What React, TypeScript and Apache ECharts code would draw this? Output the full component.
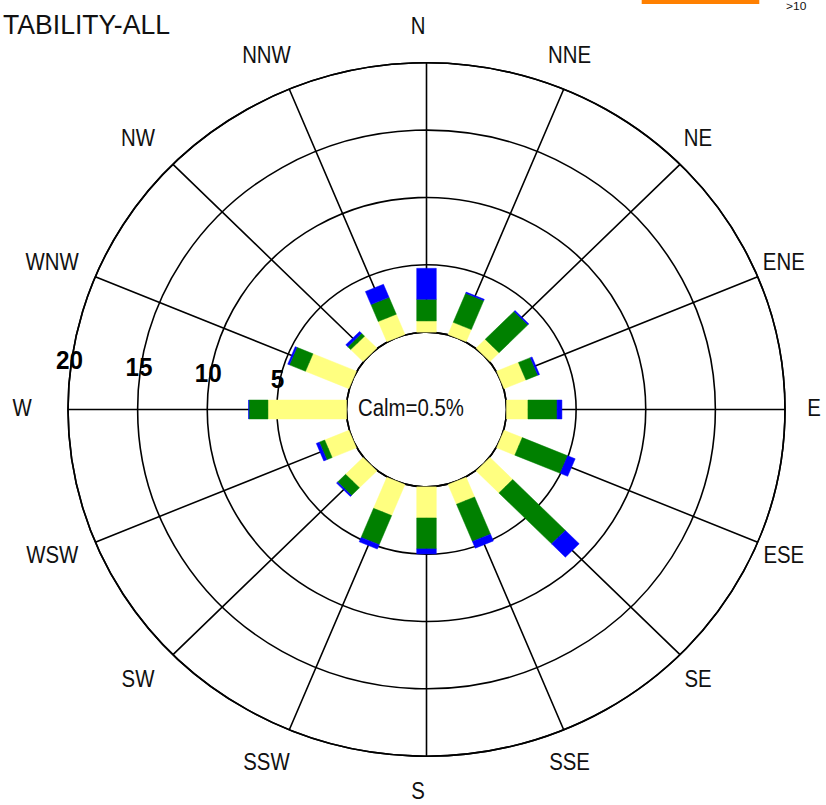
import React, { useEffect, useRef } from "react";
import * as echarts from "echarts";

// ---------- data ----------
const DIRECTIONS = ["N", "NNE", "NE", "ENE", "E", "ESE", "SE", "SSE", "S", "SSW", "SW", "WSW", "W", "WNW", "NW", "NNW"];
// frequency (%) per speed class, per direction (stacked outward)
const CLASS_LOW = [0.83, 0.97, 0.92, 1.69, 1.54, 1.41, 2.31, 1.58, 2.31, 2.49, 1.77, 1.88, 5.64, 3.37, 1.25, 1.62];
const CLASS_MID = [1.61, 2.33, 2.93, 0.93, 2.09, 3.53, 5.35, 2.99, 2.3, 2.34, 0.81, 0.42, 1.36, 1.25, 0.3, 1.36];
const CLASS_HIGH = [2.3, 0.1, 0.1, 0.13, 0.35, 0.58, 1.4, 0.54, 0.37, 0.35, 0.11, 0.23, 0.03, 0.13, 0.2, 1.05];
const RADIUS_TICKS = [5, 10, 15, 20];
const CALM = 0.5;
const TITLE = "TABILITY-ALL";
const LEGEND_TEXT = ">10";

// ---------- style / layout ----------
const CLASS_COLORS = ["#ffff80", "#008000", "#0000ff"];
const SY = 0.967;
const W = 826;
const H = Math.round(805 / SY);
const CX = 426.5;
const CY = 409.5 / SY;
const R_IN = 80;
const R_OUT = 358.5;
const R_MAX = 20;
const BAR_HALF = 9.8;
const LINE_W = 1.6;
const FONT = "'Liberation Sans', Arial, sans-serif";

export default function App() {
  const ref = useRef<HTMLDivElement>(null);

  useEffect(() => {
    if (!ref.current) return;
    const chart = echarts.init(ref.current, undefined, { renderer: "svg" });
    const step = 360 / DIRECTIONS.length;
    const classes = [CLASS_LOW, CLASS_MID, CLASS_HIGH];

    const barData: number[][] = [];
    DIRECTIONS.forEach((_, i) => {
      let cum = 0;
      classes.forEach((vals, c) => {
        barData.push([i * step, cum, cum + vals[i], c]);
        cum += vals[i];
      });
    });

    const option: any = {
      animation: false,
      polar: { center: [CX, CY], radius: [R_IN, R_OUT] },
      angleAxis: {
        type: "value",
        min: 0,
        max: 360,
        interval: step,
        startAngle: 90,
        clockwise: true,
        axisLine: { show: true, lineStyle: { color: "#000", width: LINE_W } },
        axisTick: { show: false },
        axisLabel: { show: false },
        splitLine: { show: true, lineStyle: { color: "#000", width: LINE_W } },
      },
      radiusAxis: {
        type: "value",
        min: 0,
        max: R_MAX,
        interval: 5,
        axisLine: { show: false },
        axisTick: { show: false },
        axisLabel: { show: false },
        splitLine: { show: true, lineStyle: { color: "#000", width: LINE_W } },
      },
      series: [
        {
          type: "custom",
          coordinateSystem: "polar",
          encode: { angle: 0, radius: [1, 2] },
          data: barData,
          silent: true,
          renderItem: (params: any, api: any) => {
            const ang = api.value(0) as number;
            const v0 = api.value(1) as number;
            const v1 = api.value(2) as number;
            const cls = api.value(3) as number;
            const a = api.coord([0, ang]);
            const b = api.coord([R_MAX, ang]);
            const dx = b[0] - a[0];
            const dy = b[1] - a[1];
            const len = Math.hypot(dx, dy) || 1;
            const px = (-dy / len) * BAR_HALF;
            const py = (dx / len) * BAR_HALF;
            const p0 = api.coord([v0, ang]);
            const p1 = api.coord([v1, ang]);
            return {
              type: "polygon",
              shape: {
                points: [
                  [p0[0] + px, p0[1] + py],
                  [p1[0] + px, p1[1] + py],
                  [p1[0] - px, p1[1] - py],
                  [p0[0] - px, p0[1] - py],
                ],
              },
              style: { fill: CLASS_COLORS[cls], stroke: CLASS_COLORS[cls], lineWidth: 0.5 },
            };
          },
        },
        {
          type: "custom",
          coordinateSystem: "polar",
          encode: { angle: 0, radius: 1 },
          data: DIRECTIONS.map((_, i) => [i * step, i]),
          silent: true,
          renderItem: (params: any, api: any) => {
            const ang = api.value(0) as number;
            const idx = api.value(1) as number;
            const p = api.coord([22.69, ang]);
            return {
              type: "text",
              x: p[0] - 8.5,
              y: p[1] - 1,
              scaleX: 0.85,
              style: {
                text: DIRECTIONS[idx],
                fontSize: 24,
                fontFamily: FONT,
                fill: "#111",
                align: "center",
                verticalAlign: "middle",
              },
            };
          },
        },
        {
          type: "custom",
          coordinateSystem: "polar",
          encode: { radius: 0 },
          data: RADIUS_TICKS.map((v) => [v]),
          silent: true,
          renderItem: (params: any, api: any) => {
            const v = api.value(0) as number;
            const p = api.coord([v, 275.4]);
            return {
              type: "text",
              x: p[0],
              y: p[1] - 17.5,
              scaleX: 0.9,
              style: {
                text: String(v),
                fontSize: 27,
                fontWeight: "bold",
                fontFamily: FONT,
                fill: "#000",
                align: "center",
                verticalAlign: "middle",
              },
            };
          },
        },
      ],
      graphic: [
        {
          type: "text",
          x: 3,
          y: 25.9,
          scaleX: 0.95,
          silent: true,
          style: { text: TITLE, fontSize: 28, fontFamily: FONT, fill: "#111", align: "left", verticalAlign: "middle" },
        },
        {
          type: "text",
          x: CX - 15.5,
          y: CY - 2,
          scaleX: 0.85,
          silent: true,
          style: {
            text: `Calm=${CALM}%`,
            fontSize: 24,
            fontFamily: FONT,
            fill: "#111",
            align: "center",
            verticalAlign: "middle",
          },
        },
        {
          type: "rect",
          silent: true,
          shape: { x: 641.7, y: 0, width: 117.6, height: 4.1 },
          style: { fill: "#ff8000" },
        },
        {
          type: "text",
          x: 786,
          y: 6.5,
          silent: true,
          style: { text: LEGEND_TEXT, fontSize: 12, fontFamily: FONT, fill: "#111", align: "left", verticalAlign: "middle" },
        },
      ],
    };

    chart.setOption(option);
    return () => chart.dispose();
  }, []);

  return (
    <div
      ref={ref}
      style={{
        position: "fixed",
        left: 0,
        top: 0,
        width: W,
        height: H,
        transform: `scaleY(${SY})`,
        transformOrigin: "0 0",
        background: "#fff",
      }}
    />
  );
}
